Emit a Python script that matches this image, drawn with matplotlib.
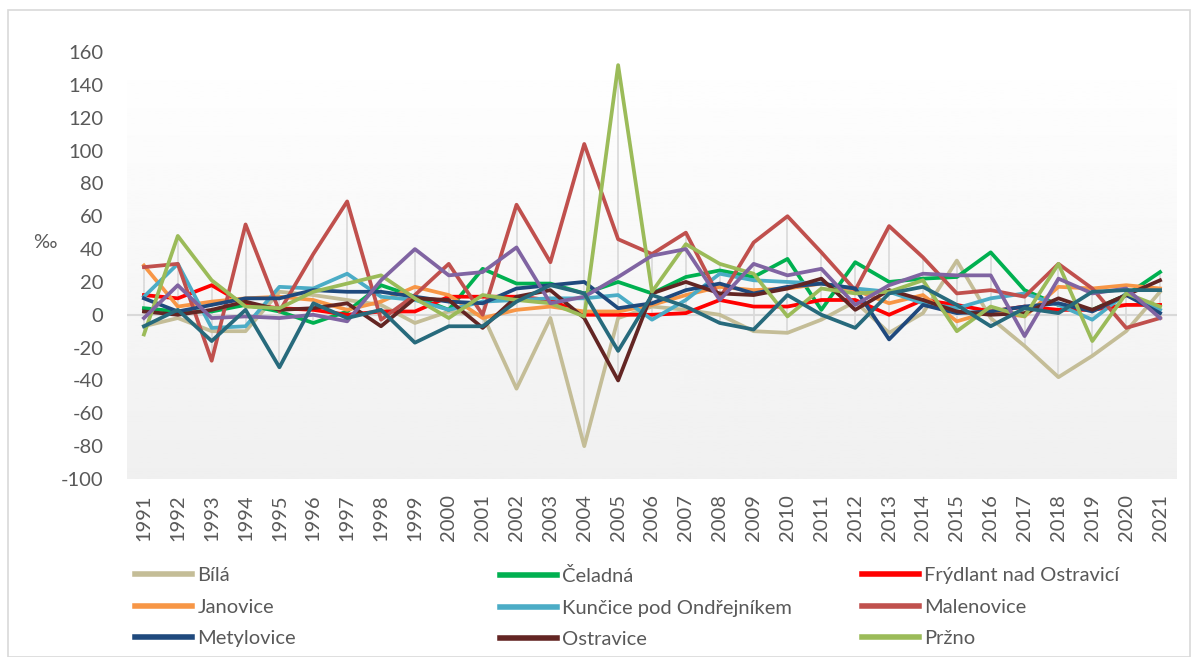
import numpy as np
import matplotlib
matplotlib.use("Agg")
import matplotlib.pyplot as plt
from matplotlib.lines import Line2D
from matplotlib.patches import Rectangle

plt.rcParams['font.family'] = ['Lato', 'DejaVu Sans']
plt.rcParams['axes.unicode_minus'] = False

years = [str(y) for y in range(1991, 2022)]

# values in per mille
bila = [-7, -2, -10, -10, 14, 12, 9, 6, -5, 2, 0, -45, -2, -80, -2, 5, 3, 0, -10, -11,
        -3, 8, -11, 1, 33, -2, -19, -38, -25, -10, 14]
celadna = [4, 2, 2, 6, 2, -5, 2, 18, 11, 3, 28, 19, 19, 13, 20, 13, 23, 27, 23, 34,
           3, 32, 20, 22, 23, 38, 15, 6, 3, 12, 26]
frydlant = [12, 10, 18, 6, 4, 3, 0, 2, 2, 11, 11, 11, 9, 0, 0, 0, 1, 9, 5, 5,
            9, 9, 0, 9, 6, 2, 5, 3, 3, 6, 6]
janovice = [30, 5, 8, 10, 11, 9, 3, 8, 17, 12, -2, 3, 5, 2, 2, 6, 12, 17, 15, 16,
            19, 15, 7, 12, -4, 2, -1, 17, 16, 18, 16]
kuncice = [11, 31, -8, -7, 17, 16, 25, 11, 9, 3, 8, 9, 10, 10, 12, -3, 9, 25, 21, 20,
           19, 16, 14, 7, 4, 10, 13, 6, -3, 13, 3]
malenovice = [29, 31, -28, 55, 2, 37, 69, -3, 12, 31, 0, 67, 32, 104, 46, 37, 50, 10, 44, 60,
              38, 15, 54, 35, 13, 15, 11, 31, 16, -8, -2]
metylovice = [10, 2, 6, 10, 10, 15, 14, 14, 11, 8, 7, 16, 18, 20, 4, 7, 15, 19, 13, 17,
              19, 16, -15, 6, 1, 2, 5, 7, 2, 12, 1]
ostravice = [2, 0, 3, 8, 3, 4, 7, -7, 10, 9, -8, 11, 15, -2, -40, 13, 20, 13, 12, 16,
             22, 3, 15, 9, 2, 0, 1, 10, 3, 12, 21]
przno = [-12, 48, 21, 5, 4, 14, 19, 24, 10, -2, 12, 9, 7, -1, 152, 14, 43, 31, 25, -1,
         16, 13, 14, 21, -10, 5, -1, 31, -16, 13, 5]
# two series drawn in the chart but not listed in the legend
purple = [-2, 18, -2, -1, -2, 0, -4, 21, 40, 24, 26, 41, 7, 11, 23, 36, 40, 9, 31, 24,
          28, 6, 18, 25, 24, 24, -13, 22, 13, 16, -2]
teal = [-7, 3, -16, 3, -32, 7, -2, 3, -17, -7, -7, 8, 18, 13, -22, 12, 5, -5, -9, 12,
        0, -8, 13, 17, 6, -7, 4, 1, 14, 15, 15]

series = [
    ("Bílá", bila, "#C4BD97"),
    ("Čeladná", celadna, "#00B050"),
    ("Frýdlant nad Ostravicí", frydlant, "#FF0000"),
    ("Janovice", janovice, "#F79646"),
    ("Kunčice pod Ondřejníkem", kuncice, "#4BACC6"),
    ("Malenovice", malenovice, "#C0504D"),
    ("Metylovice", metylovice, "#1F497D"),
    ("Ostravice", ostravice, "#632523"),
    ("Pržno", przno, "#9BBB59"),
    ("_purple", purple, "#8064A2"),
    ("_teal", teal, "#276A7C"),
]

W, H = 1194, 657
fig = plt.figure(figsize=(W / 100, H / 100), dpi=100)
fig.patch.set_facecolor("white")
fig.patches.append(Rectangle((8 / W, 0), 1182 / W, 1 - 10 / H, transform=fig.transFigure,
                             fill=False, edgecolor="#D9D9D9", linewidth=1.2))

ax = fig.add_axes([127 / W, 1 - 479 / H, 1050 / W, 427 / H])
x = np.arange(len(years))

# soft vertical gradient behind the plot
grad = np.linspace(1.0, 0.94, 256).reshape(-1, 1)
ax.imshow(grad, extent=[0, 1, 0, 1], transform=ax.transAxes, cmap="gray", vmin=0, vmax=1,
          aspect="auto", zorder=0)

# high-low lines
allv = np.array([s[1] for s in series])
ax.vlines(x, allv.min(axis=0), allv.max(axis=0), color="#D9D9D9", linewidth=1.2, zorder=1)
ax.axhline(0, color="#D9D9D9", linewidth=1.5, zorder=1)

for name, vals, col in series:
    ax.plot(x, vals, color=col, linewidth=2.7, solid_joinstyle="round", zorder=3)

ax.set_xlim(-0.5, len(years) - 0.5)
ax.set_ylim(-100, 160)
ax.set_yticks(range(-100, 161, 20))
ax.set_xticks(x)
ax.set_xticklabels(years, rotation=90)
for s in ax.spines.values():
    s.set_visible(False)
ax.tick_params(axis="y", length=0, pad=17, labelsize=14.5, labelcolor="#595959")
ax.tick_params(axis="x", length=0, pad=11, labelsize=14.5, labelcolor="#595959")

fig.text(33 / W, 1 - 243 / H, "‰", fontsize=14.5, color="#595959", va="center", ha="left")

# legend in three columns, filled row by row
cols_x = [135, 500, 862]
for ci in range(3):
    items = [series[ci + 3 * r] for r in range(3)]
    handles = [Line2D([], [], color=c, linewidth=4) for _, _, c in items]
    labels = [n for n, _, _ in items]
    fig.legend(handles, labels, loc="upper left", bbox_to_anchor=(cols_x[ci] / W, 1 - 567 / H),
               frameon=False, fontsize=14.5, handlelength=2.85, handletextpad=0.25,
               labelspacing=0.72, labelcolor="#595959", borderaxespad=0, borderpad=0)

fig.savefig("out.png", dpi=100)
